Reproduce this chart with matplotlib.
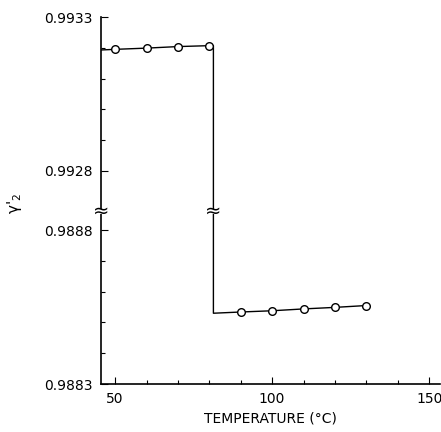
import numpy as np
import matplotlib
matplotlib.use("Agg")
import matplotlib.pyplot as plt
from matplotlib.ticker import FixedLocator

# data
temp_low = [50, 60, 70, 80]
gamma_low = [0.993195, 0.993199, 0.993204, 0.993207]
temp_high = [90, 100, 110, 120, 130]
gamma_high = [0.988534, 0.988538, 0.988544, 0.988549, 0.988555]

# connecting line (from axis, jump at the transition temperature)
line_t = [45.5] + temp_low + [81.3, 81.3] + temp_high
line_g = [0.993193] + gamma_low + [0.993207, 0.98853] + gamma_high

major_ticks = [0.9883, 0.9888, 0.9928, 0.9933]
major_labels = ["0.9883", "0.9888", "0.9928", "0.9933"]
minor_ticks = [0.9884, 0.9885, 0.9886, 0.9887, 0.9929, 0.9930, 0.9931, 0.9932]

# broken y axis: upper band is shifted down next to the lower band
SHIFT = 0.0040 - 0.000192


def forward(v):
    v = np.asarray(v, dtype=float)
    return np.where(v > 0.99, v - SHIFT, v)


def inverse(u):
    u = np.asarray(u, dtype=float)
    return np.where(u > 0.98896, u + SHIFT, u)


fig = plt.figure(figsize=(4.41, 4.32), dpi=100)
ax = fig.add_axes([0.229, 0.111, 0.769, 0.8496])

ax.set_yscale("function", functions=(forward, inverse))
ax.set_ylim(0.9883, 0.9933)
ax.set_xlim(45.5, 153.5)

ax.plot(line_t, line_g, color="black", lw=1.0, zorder=2)
ax.plot(temp_low + temp_high, gamma_low + gamma_high, "o", ms=5.5,
        mfc="white", mec="black", mew=1.0, zorder=4)

ax.yaxis.set_major_locator(FixedLocator(major_ticks))
ax.set_yticklabels(major_labels)
ax.yaxis.set_minor_locator(FixedLocator(minor_ticks))
ax.set_xticks([50, 100, 150])
ax.xaxis.set_minor_locator(FixedLocator(list(range(60, 150, 10))))

for s in ["top", "right"]:
    ax.spines[s].set_visible(False)
for s in ["left", "bottom"]:
    ax.spines[s].set_linewidth(1.2)

ax.tick_params(which="both", direction="in", labelsize=10, width=0.8)
ax.tick_params(which="major", length=5, pad=6)
ax.tick_params(which="minor", length=3)

# break marks on the axis and the vertical line
yb = 0.98886
for xb in [45.5, 81.3]:
    ax.plot([xb, xb], [yb - 0.000009, yb + 0.000009], color="white", lw=3,
            solid_capstyle="butt", clip_on=False, zorder=5)
    ax.text(xb, yb, "≈", fontsize=14, ha="center", va="center",
            clip_on=False, zorder=6)

ax.set_xlabel("TEMPERATURE (°C)", fontsize=10, labelpad=4)
fig.text(0.032, 0.53, "γ$'_2$", rotation=90, fontsize=11,
         ha="center", va="center")

fig.savefig("out.png", dpi=100)
